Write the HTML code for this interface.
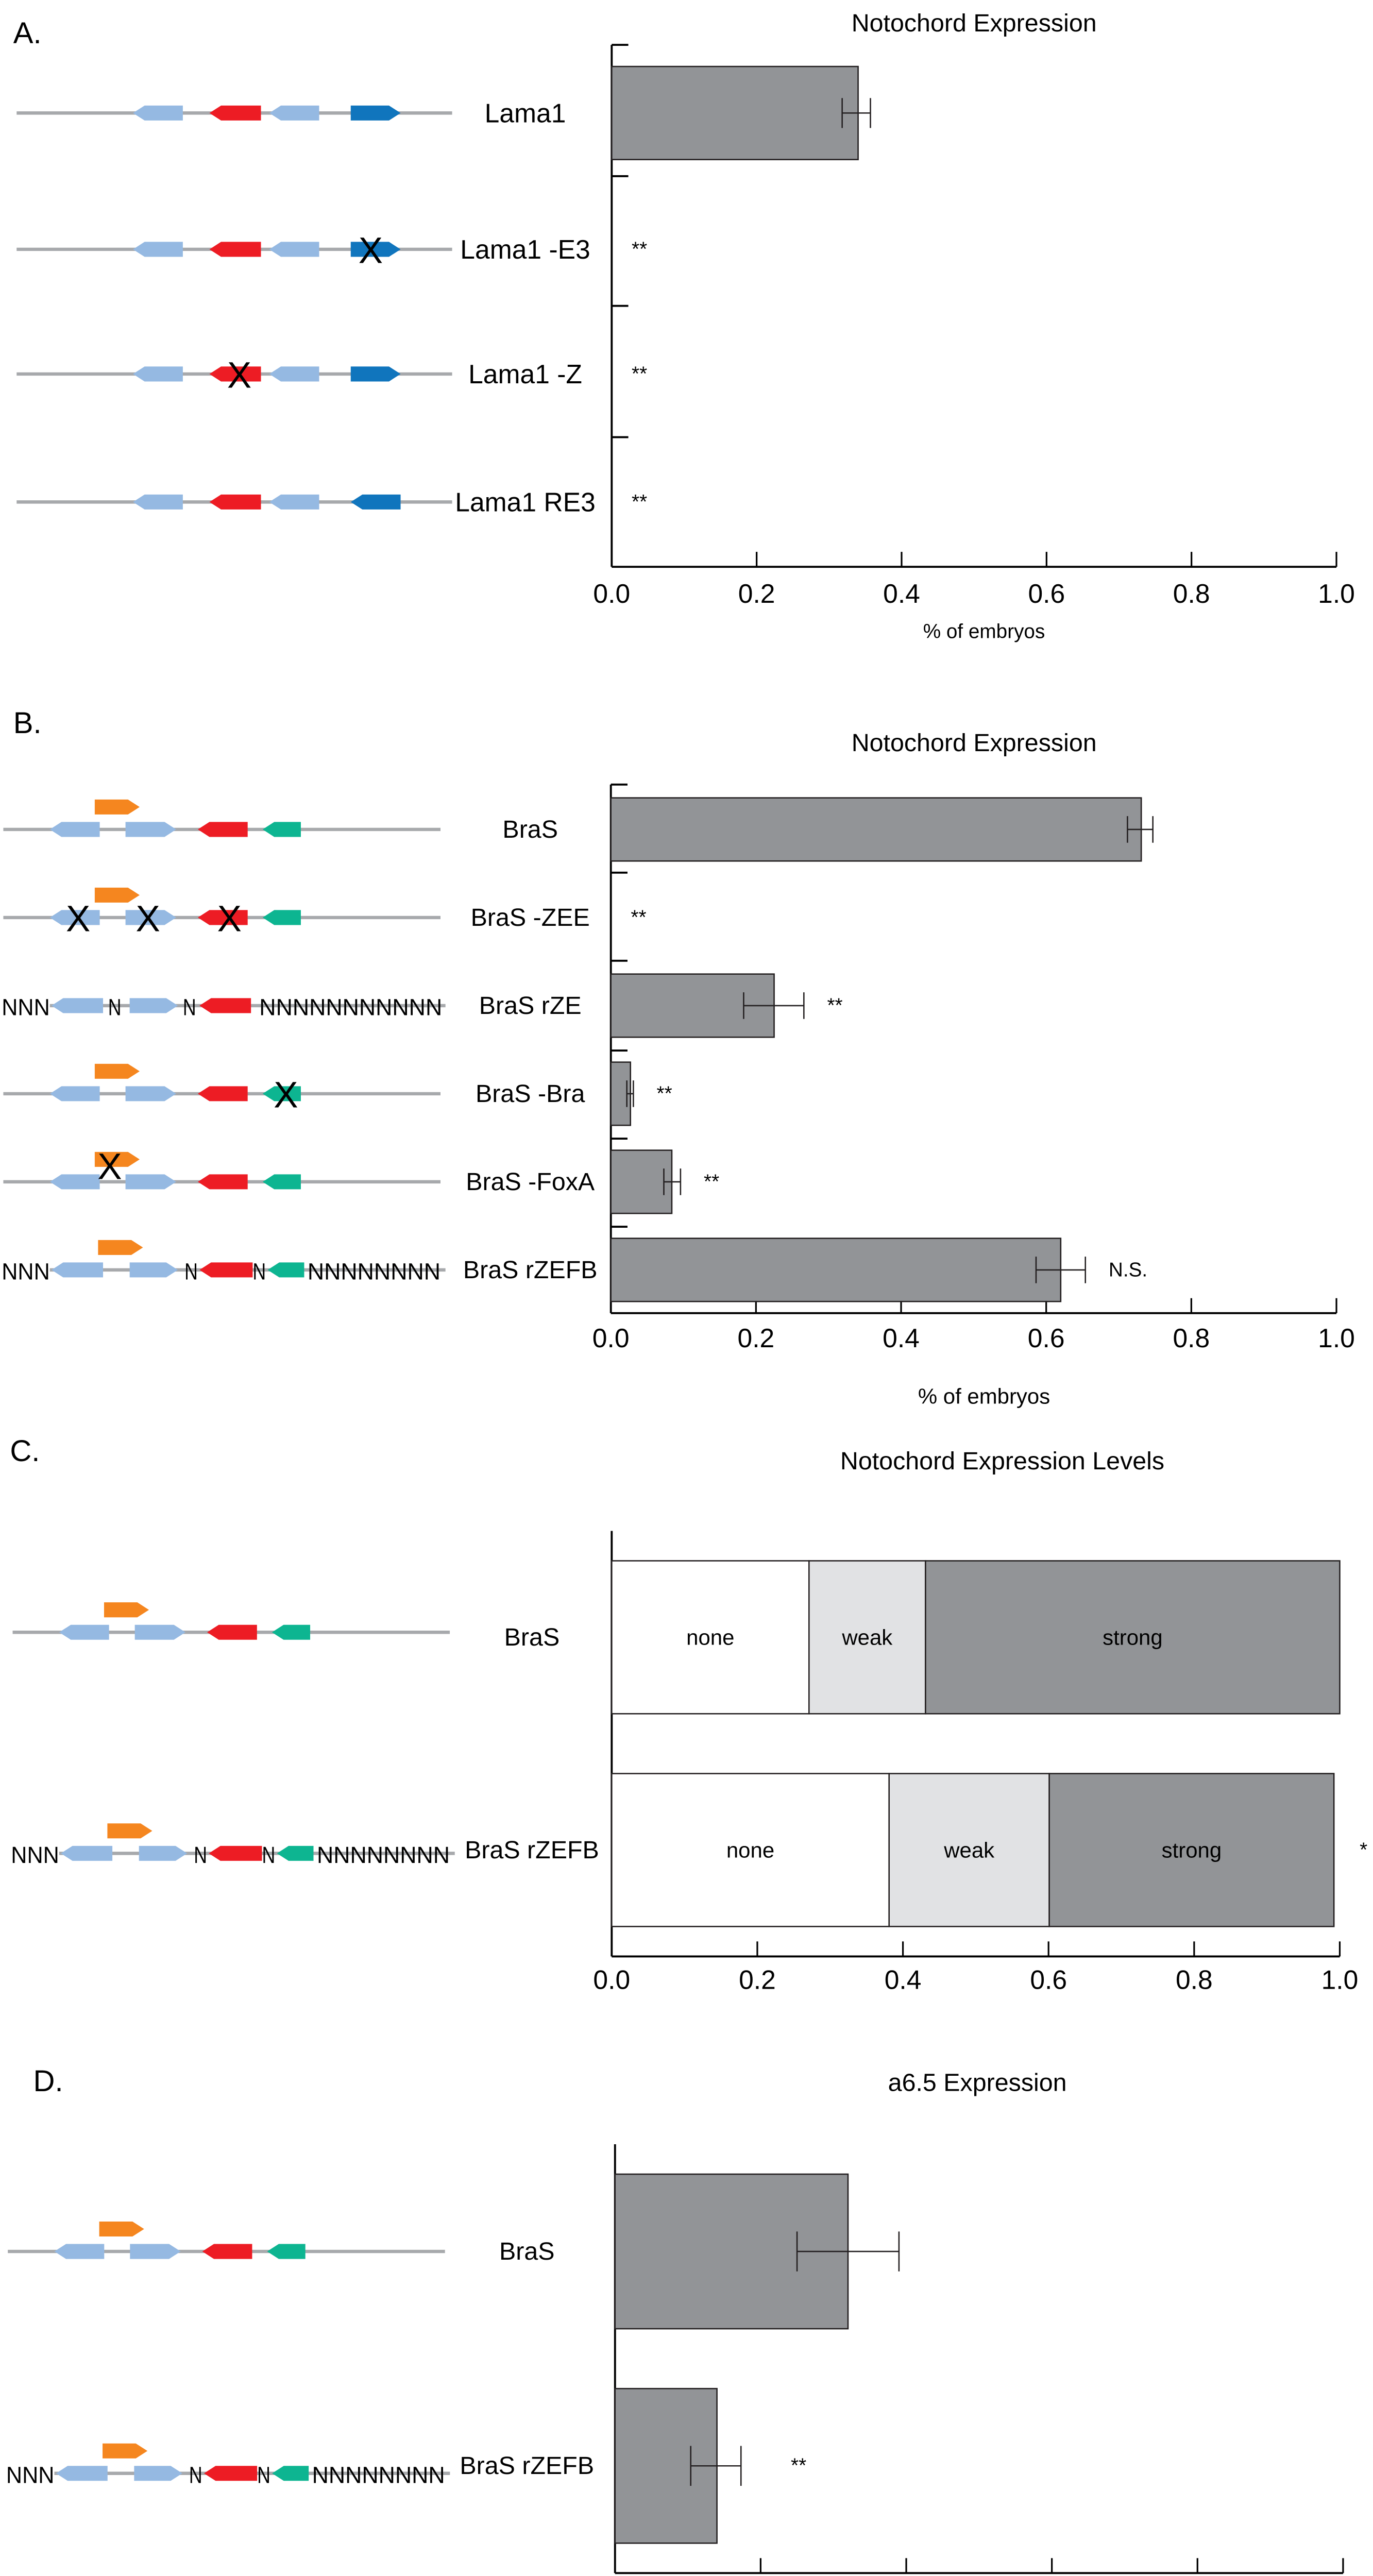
<!DOCTYPE html>
<html><head><meta charset="utf-8"><style>
html,body{margin:0;padding:0;background:#fff;width:2665px;height:5075px;overflow:hidden}
svg{display:block;position:absolute;left:0;top:0}
text{font-family:"Liberation Sans",sans-serif;fill:#000}
</style></head><body>
<svg id="fig" xmlns="http://www.w3.org/2000/svg" width="2665" height="5075" viewBox="0 0 826 1573" preserveAspectRatio="none">
<g id="root"></g>
</svg>
<script>
// ---------- DATA ----------
const aCats = ["Lama1","Lama1 -E3","Lama1 -Z","Lama1 RE3"];
const aVals = [0.34, 0, 0, 0];
const aErrLo = [0.318, null, null, null];
const aErrHi = [0.357, null, null, null];
const aSig = ["", "**", "**", "**"];

const bCats = ["BraS","BraS -ZEE","BraS rZE","BraS -Bra","BraS -FoxA","BraS rZEFB"];
const bVals = [0.731, 0, 0.225, 0.027, 0.084, 0.62];
const bErrLo = [0.712, null, 0.183, 0.022, 0.073, 0.586];
const bErrHi = [0.747, null, 0.266, 0.031, 0.096, 0.654];
const bSig = ["", "**", "**", "**", "**", "N.S."];

const cCats = ["BraS","BraS rZEFB"];
const cNone = [0.271, 0.381];
const cWeak = [0.160, 0.220];
const cStrong = [0.569, 0.391];
const cSig = ["", "*"];

const dCats = ["BraS","BraS rZEFB"];
const dVals = [0.32, 0.14];
const dErrLo = [0.25, 0.104];
const dErrHi = [0.39, 0.173];
const dSig = ["", "**"];

const xTicks = ["0.0","0.2","0.4","0.6","0.8","1.0"];

// ---------- HELPERS ----------
const NS="http://www.w3.org/2000/svg";
const root=document.getElementById('root');
function el(tag,attrs,parent){const e=document.createElementNS(NS,tag);for(const k in attrs)e.setAttribute(k,attrs[k]);(parent||root).appendChild(e);return e;}
function txt(x,y,s,size,anchor,parent,extra){const t=el('text',Object.assign({x:x,y:y,'font-size':size,'text-anchor':anchor||'start','dominant-baseline':'central'},extra||{}),parent);t.textContent=s;return t;}

const C={lb:"#95b9e2",red:"#ed1c24",db:"#1075bd",gr:"#0db591",or:"#f5861f",line:"#a7a9ac",bar:"#929497",weak:"#e1e2e4"};

function gene(g,x1,x2,y,dir,color,h){
  h=h||9;const p=7;let pts;
  if(dir==='L')pts=[[x1,y],[x1+p,y-h/2],[x2,y-h/2],[x2,y+h/2],[x1+p,y+h/2]];
  else pts=[[x2,y],[x2-p,y-h/2],[x1,y-h/2],[x1,y+h/2],[x2-p,y+h/2]];
  const e=el('polygon',{points:pts.map(q=>q.join(',')).join(' '),fill:color},g);
  
  
}
function xmark(g,x,y){const t=txt(x,y+1,"X",22,'middle',g);}
function ntext(g,x,y,n,w){const t=txt(x,y+1,"N".repeat(n),14,'start',g,{textLength:w,lengthAdjust:'spacingAndGlyphs'});}

function lamaRow(y,variant){
  const g=el('g',{});
  
  
  el('line',{x1:10,x2:272,y1:y,y2:y,stroke:C.line,'stroke-width':2},g);
  gene(g,80,110,y,'L',C.lb);
  gene(g,126,157,y,'L',C.red);
  gene(g,162,192,y,'L',C.lb);
  gene(g,211,241,y,variant==='RE3'?'L':'R',C.db);
  if(variant==='E3')xmark(g,223,y);
  if(variant==='Z')xmark(g,144,y);
}
function braRow(y,dx,variant){
  const g=el('g',{transform:'translate('+dx+',0)'});
  
  
  if(variant==='rZE'||variant==='rZEFB'){
    ntext(g,1,y,3,29);
    el('line',{x1:30,x2:268,y1:y,y2:y,stroke:C.line,'stroke-width':2},g);
    gene(g,31,62,y,'L',C.lb);
    gene(g,78,107,y,'R',C.lb);
    if(variant==='rZE'){
      ntext(g,65,y,1,8); ntext(g,110,y,1,8);
      gene(g,120,151,y,'L',C.red);
      ntext(g,156,y,11,110);
    } else {
      gene(g,59,86,y-13.5,'R',C.or);
      ntext(g,111,y,1,8);
      gene(g,120,152,y,'L',C.red);
      ntext(g,152,y,1,8);
      gene(g,161,183,y,'L',C.gr);
      ntext(g,185,y,8,80);
    }
    return;
  }
  el('line',{x1:2,x2:265,y1:y,y2:y,stroke:C.line,'stroke-width':2},g);
  gene(g,57,84,y-13.5,'R',C.or);
  gene(g,30,60,y,'L',C.lb);
  gene(g,75.5,106,y,'R',C.lb);
  gene(g,119,149,y,'L',C.red);
  gene(g,158,181,y,'L',C.gr);
  if(variant==='ZEE'){xmark(g,47,y);xmark(g,89,y);xmark(g,138,y);}
  if(variant==='Bra'){xmark(g,172,y);}
  if(variant==='FoxA'){xmark(g,66,y-10);}
}

function axes(o){
  const g=el('g',{});
  
  
  el('line',{x1:o.x0,x2:o.x0,y1:o.top,y2:o.bottom,stroke:'#000','stroke-width':1.2},g);
  el('line',{x1:o.x0,x2:o.x1,y1:o.bottom,y2:o.bottom,stroke:'#000','stroke-width':1.2},g);
  (o.leftTicks||[]).forEach(t=>{el('line',{x1:o.x0,x2:o.x0+10,y1:t,y2:t,stroke:'#000','stroke-width':1.2},g);});
  xTicks.forEach((lab,i)=>{
    const v=parseFloat(lab);const x=o.x0+v*(o.x1-o.x0);
    if(i>0)el('line',{x1:x,x2:x,y1:o.bottom-9,y2:o.bottom,stroke:'#000','stroke-width':1},g);
    const t=txt(x,o.tickY,lab,16,'middle',g);
    
    
  });
  return g;
}
function barsChart(o,cats,vals,lo,hi,sig){
  const g=axes(o);
  const sx=v=>o.x0+v*(o.x1-o.x0);
  cats.forEach((c,i)=>{
    const y=o.rows[i];
    if(vals[i]>0){
      const r=el('rect',{x:sx(0),y:y-o.bh/2,width:sx(vals[i])-sx(0),height:o.bh,fill:C.bar,stroke:'#231f20','stroke-width':0.8},g);
      
      
    }
    if(lo[i]!==null){
      const eg=el('g',{stroke:'#231f20','stroke-width':0.8},g);
      
      
      el('line',{x1:sx(lo[i]),x2:sx(hi[i]),y1:y,y2:y},eg);
      el('line',{x1:sx(lo[i]),x2:sx(lo[i]),y1:y-o.eh,y2:y+o.eh},eg);
      el('line',{x1:sx(hi[i]),x2:sx(hi[i]),y1:y-o.eh,y2:y+o.eh},eg);
    }
    if(sig[i]){
      const sxp = lo[i]!==null ? sx(hi[i])+o.sigGap : o.x0+12;
      const t=txt(sxp,y,sig[i],12,'start',g);
      
      
    }
    const lt=txt(o.labelX,y,c,o.labelSize,'middle',g);
    
    
  });
}
function title(x,y,s,name){const t=txt(x,y,s,15,'middle');}
function panelLetter(x,y,s){const t=txt(x,y,s,18,'start');}

// ---------- PANEL A ----------
panelLetter(8,20,"A.");
title(586,14,"Notochord Expression","panel-a-title");
const aRows=[68,150,225,302];
barsChart({name:'panel-a-chart',x0:368,x1:804,top:27,bottom:341,leftTicks:[27,106,184,263],tickY:357,rows:aRows,bh:56,eh:9,sigGap:10,labelX:316,labelSize:16},aCats,aVals,aErrLo,aErrHi,aSig);
{const t=txt(592,380,"% of embryos",12,'middle');}
lamaRow(68,'');lamaRow(150,'E3');lamaRow(225,'Z');lamaRow(302,'RE3');

// ---------- PANEL B ----------
panelLetter(8,435,"B.");
title(586,447,"Notochord Expression","panel-b-title");
const bRows=[499,552,605,658,711,764];
barsChart({name:'panel-b-chart',x0:367.5,x1:804,top:472,bottom:790,leftTicks:[472,525,578,632,685,738],tickY:805,rows:bRows,bh:38,eh:8,sigGap:14,labelX:319,labelSize:15},bCats,bVals,bErrLo,bErrHi,bSig);
{const t=txt(592,840,"% of embryos",13,'middle');}
braRow(499,0,'');braRow(552,0,'ZEE');braRow(605,0,'rZE');braRow(658,0,'Bra');braRow(711,0,'FoxA');braRow(764,0,'rZEFB');

// ---------- PANEL C ----------
panelLetter(6,873,"C.");
title(603,879,"Notochord Expression Levels","panel-c-title");
{
  const o={name:'panel-c-chart',x0:368,x1:806,top:921,bottom:1177,leftTicks:[],tickY:1191};
  const g=axes(o);
  const sx=v=>o.x0+v*(o.x1-o.x0);
  const rows=[985,1113];
  cCats.forEach((c,i)=>{
    const y=rows[i];let acc=0;
    const segs=[[cNone[i],'#fff','none'],[cWeak[i],C.weak,'weak'],[cStrong[i],C.bar,'strong']];
    segs.forEach(s=>{
      const r=el('rect',{x:sx(acc),y:y-46,width:sx(acc+s[0])-sx(acc),height:92,fill:s[1],stroke:'#231f20','stroke-width':0.8},g);
      
      
      const t=txt((sx(acc)+sx(acc+s[0]))/2,y,s[2],13,'middle',g);
      
      
      acc+=s[0];
    });
    if(cSig[i]){const t=txt(818,y,cSig[i],12,'start',g);}
    const lt=txt(320,y,c,15,'middle',g);
    
    
  });
}
braRow(982,5.6,'');braRow(1115,5.6,'rZEFB');

// ---------- PANEL D ----------
panelLetter(20,1252,"D.");
title(588,1253,"a6.5 Expression","panel-d-title");
barsChart({name:'panel-d-chart',x0:370,x1:808,top:1290,bottom:1548,leftTicks:[],tickY:1562,rows:[1354.5,1483.5],bh:93,eh:12,sigGap:30,labelX:317,labelSize:15},dCats,dVals,dErrLo,dErrHi,dSig);
braRow(1354.5,2.7,'');braRow(1488,2.7,'rZEFB');
</script>
</body></html>
